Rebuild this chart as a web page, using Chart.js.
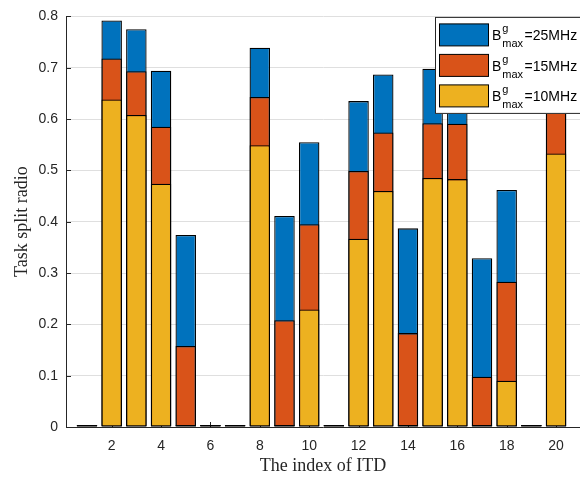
<!DOCTYPE html>
<html lang="en">
<head>
    <meta charset="UTF-8">
    <title>Task split radio</title>
    <script src="https://cdn.jsdelivr.net/npm/chart.js"></script>
    <style>
        body { margin: 0; background: #fff; }
        .wrap { width: 580px; height: 478px; position: relative; }
    </style>
</head>
<body>
    <div class="wrap"><canvas id="split-chart"></canvas></div>

    <script>
        // index of ITD
        const itdIndex = [1, 2, 3, 4, 5, 6, 7, 8, 9, 10, 11, 12, 13, 14, 15, 16, 17, 18, 19, 20];
        const xTicks = [2, 4, 6, 8, 10, 12, 14, 16, 18, 20];
        const yTicks = [0, 0.1, 0.2, 0.3, 0.4, 0.5, 0.6, 0.7, 0.8];

        // task split ratio per bandwidth (bars overlap, 10MHz drawn in front)
        const bw25 = [0, 0.792, 0.775, 0.694, 0.374, 0, 0, 0.739, 0.411, 0.555, 0, 0.635, 0.687, 0.387, 0.698, 0.65, 0.329, 0.462, 0, 0.75];
        const bw15 = [0, 0.718, 0.693, 0.585, 0.158, 0, 0, 0.643, 0.208, 0.395, 0, 0.499, 0.574, 0.183, 0.592, 0.591, 0.098, 0.283, 0, 0.66];
        const bw10 = [0, 0.638, 0.608, 0.474, 0, 0, 0, 0.549, 0, 0.229, 0, 0.367, 0.460, 0, 0.485, 0.483, 0, 0.090, 0, 0.533];
        const bandwidths = ['25MHz', '15MHz', '10MHz'];

        const colors = ['#0072BD', '#D95319', '#EDB120'];
        const axisColor = '#262626';

        const toPoints = vals => itdIndex.map((x, i) => ({ x: x, y: vals[i] }));

        function barSet(label, vals, color, order) {
            return {
                label: label,
                data: toPoints(vals),
                backgroundColor: color,
                borderColor: '#000',
                borderWidth: 1.3,
                borderSkipped: false,
                minBarLength: 2,
                grouped: false,
                categoryPercentage: 1,
                barPercentage: 0.83,
                order: order
            };
        }

        // ticks pointing inward, under the bars (like matlab)
        const innerTicks = {
            id: 'innerTicks',
            beforeDatasetsDraw(chart) {
                const { ctx, chartArea, scales } = chart;
                ctx.save();
                ctx.strokeStyle = axisColor;
                ctx.lineWidth = 1;
                ctx.beginPath();
                scales.y.ticks.forEach(t => {
                    const py = Math.round(scales.y.getPixelForValue(t.value)) + 0.5;
                    ctx.moveTo(chartArea.left, py);
                    ctx.lineTo(chartArea.left + 5, py);
                });
                scales.x.ticks.forEach(t => {
                    const px = Math.round(scales.x.getPixelForValue(t.value)) + 0.5;
                    ctx.moveTo(px, chartArea.bottom);
                    ctx.lineTo(px, chartArea.bottom - 5);
                });
                ctx.stroke();
                ctx.restore();
            }
        };

        // legend box with B^g_max text
        const texLegend = {
            id: 'texLegend',
            afterDraw(chart) {
                const { ctx, chartArea } = chart;
                const right = chartArea.right + 2;
                const left = right - 147;
                const top = chartArea.top + 0.5;
                const rowH = 30.5;
                ctx.save();
                ctx.fillStyle = '#fff';
                ctx.fillRect(left, top, right - left, 97);
                ctx.strokeStyle = axisColor;
                ctx.lineWidth = 1;
                ctx.strokeRect(left + 0.5, top + 0.5, right - left, 96);

                bandwidths.forEach((bw, i) => {
                    const sy = top + 7 + i * rowH;
                    ctx.fillStyle = colors[i];
                    ctx.fillRect(left + 4.5, sy, 49, 22);
                    ctx.strokeStyle = '#000';
                    ctx.strokeRect(left + 4.5, sy, 49, 22);

                    const base = sy + 16.5;
                    let tx = left + 57;
                    ctx.fillStyle = '#000';
                    ctx.textBaseline = 'alphabetic';
                    ctx.textAlign = 'left';
                    ctx.font = '14px "Liberation Sans", Arial, sans-serif';
                    ctx.fillText('B', tx, base);
                    tx += ctx.measureText('B').width + 1;
                    ctx.font = '11px "Liberation Sans", Arial, sans-serif';
                    ctx.fillText('g', tx, base - 8);
                    ctx.fillText('max', tx, base + 7);
                    tx += ctx.measureText('max').width + 1.5;
                    ctx.font = '14px "Liberation Sans", Arial, sans-serif';
                    ctx.fillText('=' + bw, tx, base);
                });
                ctx.restore();
            }
        };

        const ctx = document.getElementById('split-chart').getContext('2d');
        const chart = new Chart(ctx, {
            type: 'bar',
            data: {
                datasets: [
                    barSet('B^g_max=' + bandwidths[0], bw25, colors[0], 2),
                    barSet('B^g_max=' + bandwidths[1], bw15, colors[1], 1),
                    barSet('B^g_max=' + bandwidths[2], bw10, colors[2], 0)
                ]
            },
            options: {
                responsive: true,
                maintainAspectRatio: false,
                animation: false,
                layout: { padding: { top: 15, right: 0, left: 0, bottom: 0 } },
                plugins: {
                    legend: { display: false },
                    tooltip: { enabled: false }
                },
                scales: {
                    x: {
                        type: 'linear',
                        min: 0.15,
                        max: 20.97,
                        offset: false,
                        grid: { display: false, drawTicks: false },
                        border: { display: true, color: axisColor, width: 1 },
                        afterBuildTicks: s => { s.ticks = xTicks.map(v => ({ value: v })); },
                        afterFit: s => { s.height = 51; },
                        ticks: {
                            padding: 11,
                            color: axisColor,
                            font: { family: '"Liberation Sans", Arial, sans-serif', size: 14 },
                            callback: v => String(v)
                        },
                        title: {
                            display: true,
                            text: 'The index of ITD',
                            color: axisColor,
                            font: { family: '"Liberation Serif", "Times New Roman", serif', size: 18 },
                            padding: { top: 0, bottom: 1 }
                        }
                    },
                    y: {
                        min: 0,
                        max: 0.8,
                        grid: { color: '#dfdfdf', drawTicks: false },
                        border: { display: true, color: axisColor, width: 1 },
                        afterBuildTicks: s => { s.ticks = yTicks.map(v => ({ value: v })); },
                        afterFit: s => { s.width = 66; },
                        ticks: {
                            padding: 8,
                            color: axisColor,
                            font: { family: '"Liberation Sans", Arial, sans-serif', size: 14 },
                            callback: v => v === 0 ? '0' : v.toFixed(1)
                        },
                        title: {
                            display: true,
                            text: 'Task split radio',
                            color: axisColor,
                            font: { family: '"Liberation Serif", "Times New Roman", serif', size: 18 },
                            padding: { top: 11, bottom: 0 }
                        }
                    }
                }
            },
            plugins: [innerTicks, texLegend]
        });
    </script>
</body>
</html>
